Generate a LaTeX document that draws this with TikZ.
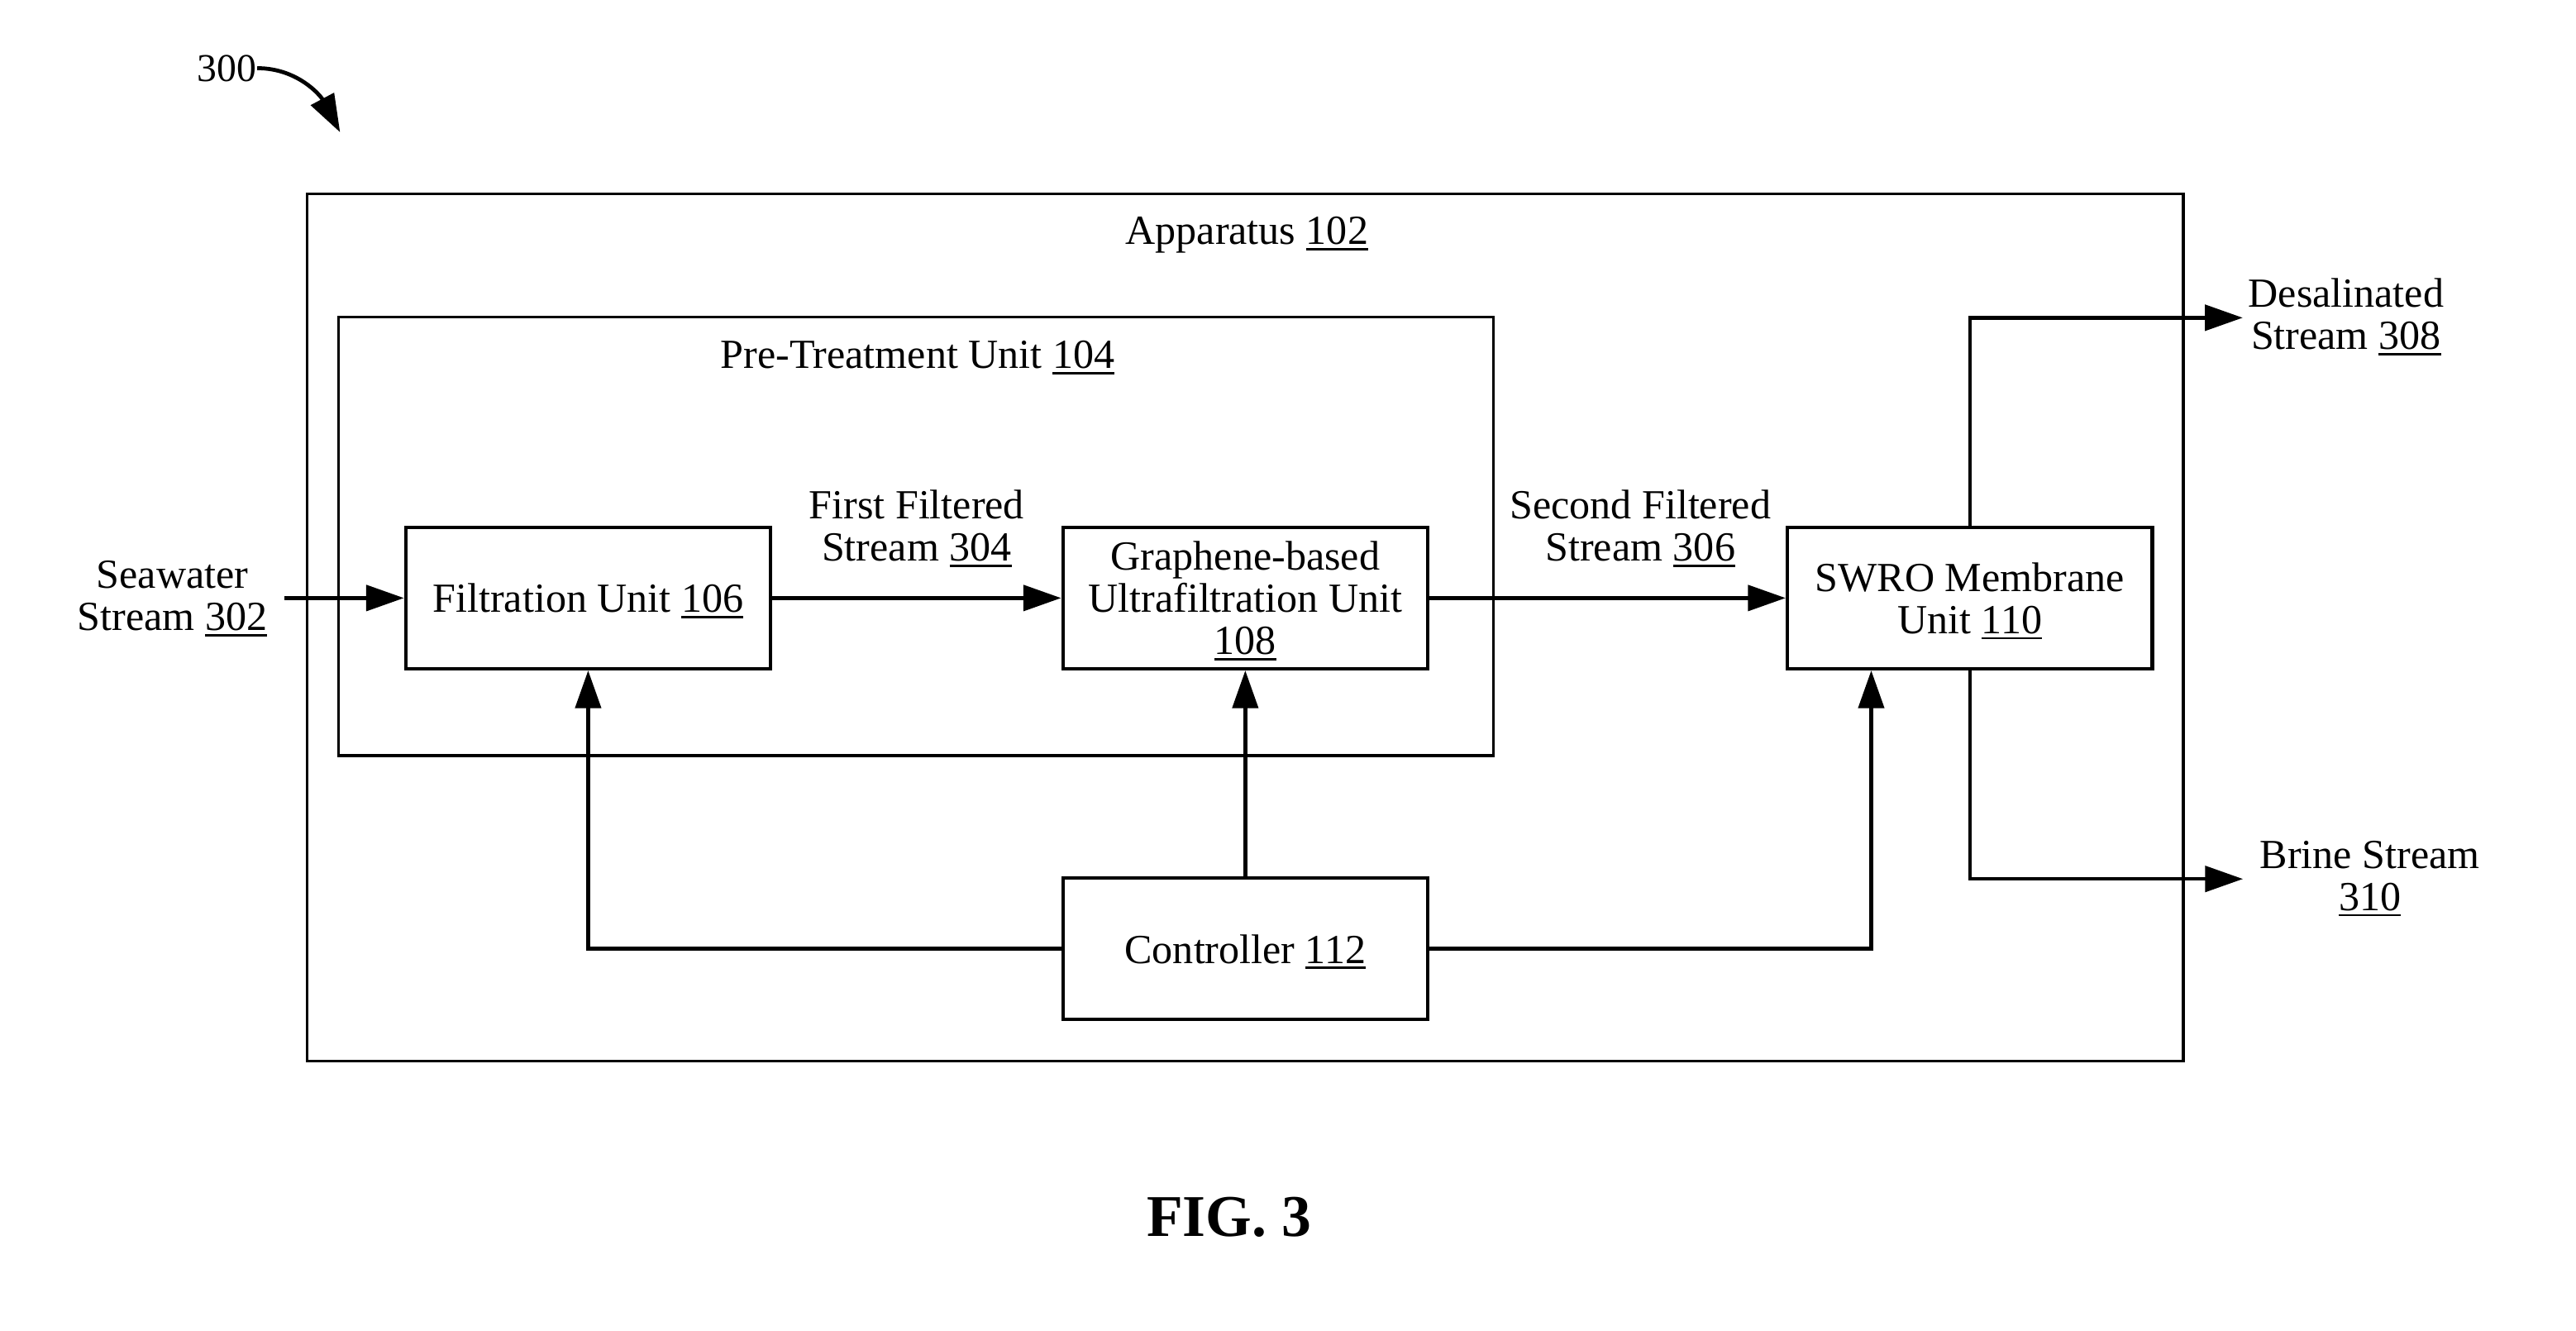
\documentclass[tikz,border=0pt]{standalone}
\usepackage{fontspec}
\setmainfont{Liberation Serif}
\usetikzlibrary{arrows.meta}
% underlined reference numeral with a firm rule
\newcommand{\rn}[1]{\leavevmode\vtop{\hbox{#1}\kern1.0pt\hrule height0.7pt}}
\begin{document}
\begin{tikzpicture}[x=0.5pt,y=0.5pt,
  every node/.style={font=\fontsize{12.6}{12.8}\selectfont, inner sep=0pt,
    align=center, text depth=0pt},
  unit/.style={draw, line width=1.1pt, minimum width=111pt, minimum height=43pt},
  frame/.style={draw, line width=0.85pt},
  tip/.style={-{Triangle[length=11.5pt,width=7.8pt]}},
  flow/.style={line width=1.1pt, tip}]
\useasboundingbox (0,0) rectangle (1568,-810);

% enclosing frames
\node[frame, minimum width=571pt, minimum height=264pt] (app) at (758,-382) {};
\node[frame, minimum width=351.5pt, minimum height=133.5pt] (pre) at (557.5,-326.5) {};
\node (apptitle) at (759,-140.3) {Apparatus \rn{102}};
\node (pretitle) at (558.5,-216) {Pre-Treatment Unit \rn{104}};

% process units
\node[unit] (filt) at (358,-364) {Filtration Unit \rn{106}};
\node[unit] (graph) at (758,-364) {Graphene-based\\Ultrafiltration Unit\\\rn{108}};
\node[unit] (swro) at (1199,-364) {SWRO Membrane\\Unit \rn{110}};
\node[unit] (ctrl) at (758,-577.5) {Controller \rn{112}};

% stream labels
\node (sea) at (105,-362.5) {Seawater\\Stream \rn{302}};
\node (ff) at (558,-320) {First Filtered\\Stream \rn{304}};
\node (sf) at (998.5,-320) {Second Filtered\\Stream \rn{306}};
\node (des) at (1428,-191) {Desalinated\\Stream \rn{308}};
\node (brine) at (1442.5,-533) {Brine Stream\\\rn{310}};

% main flow
\draw[flow] ([xshift=5pt]sea.east |- filt.west) -- (filt.west);
\draw[flow] (filt) -- (graph);
\draw[flow] (graph) -- (swro);
\draw[flow] (swro.north) |- ([xshift=-1.5pt,yshift=-1.2pt]des.west);
\draw[flow] (swro.south) |- ([xshift=-5pt,yshift=-1pt]brine.west);

% control lines
\draw[flow] (ctrl.west) -| (filt.south);
\draw[flow] (ctrl.north) -- (graph.south);
\draw[flow] (ctrl.east) -| ([xshift=-30pt]swro.south);

% reference numeral
\node[font=\fontsize{12}{12}\selectfont] (ref) at (138.2,-41.5) {300};
\coordinate (refend) at (207,-80.5);
\draw[line width=1.2pt, tip] (ref.east) to[out=0,in=118] (refend);

\node[font=\fontsize{18}{20}\selectfont\bfseries] (fig) at (748,-740.6) {FIG. 3};
\end{tikzpicture}
\end{document}
